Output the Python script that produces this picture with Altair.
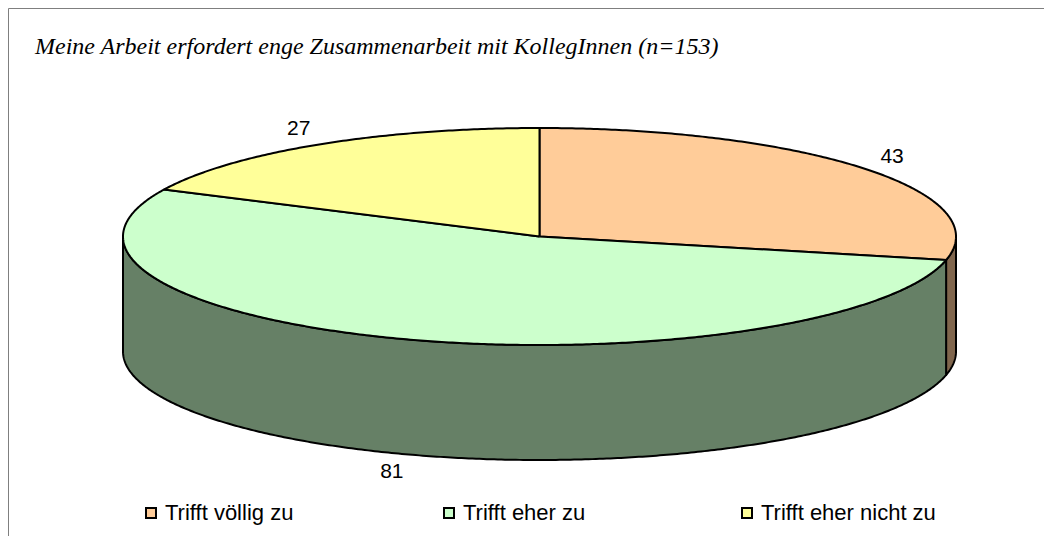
import math
import altair as alt
import pandas as pd

# ---- data ----
categories = ["Trifft völlig zu", "Trifft eher zu", "Trifft eher nicht zu"]
values = [43, 81, 27]
top_colors = ["#FFCC99", "#CCFFCC", "#FFFF99"]
side_colors = ["#80664D", "#668066", "#808040"]
title_text = "Meine Arbeit erfordert enge Zusammenarbeit mit KollegInnen (n=153)"

# ---- layout of the tilted pie (page pixel units) ----
CX, CY, RX, RY, DEPTH = 539.5, 236.5, 416.5, 108.5, 115.0
LRX, LRY = 452.0, 127.0
X0, Y0, W, H = 8, 8, 1036, 528


def pt(a, dy=0.0, rx=RX, ry=RY):
    r = math.radians(a)
    return CX + rx * math.sin(r), CY - ry * math.cos(r) + dy


def arc_angles(a0, a1, step=0.5):
    n = max(2, int((a1 - a0) / step) + 1)
    return [a0 + (a1 - a0) * k / (n - 1) for k in range(n)]


total = sum(values)
top_rows, side_rows, label_rows = [], [], []
acc = 0.0
for cat, v in zip(categories, values):
    a0 = acc / total * 360.0
    a1 = (acc + v) / total * 360.0
    acc += v
    pts = [(CX, CY)] + [pt(a) for a in arc_angles(a0, a1)] + [(CX, CY)]
    for i, (x, y) in enumerate(pts):
        top_rows.append({"cat": cat, "i": i, "x": x, "y": y})
    s0, s1 = max(a0, 90.0), min(a1, 270.0)
    if s1 > s0:
        sa = arc_angles(s0, s1)
        spts = [pt(a) for a in sa] + [pt(a, DEPTH) for a in reversed(sa)] + [pt(sa[0])]
        for i, (x, y) in enumerate(spts):
            side_rows.append({"cat": cat, "i": i, "x": x, "y": y})
    mid = (a0 + a1) / 2.0
    front = math.cos(math.radians(mid)) < 0
    lx, ly = pt(mid, DEPTH if front else 0.0, LRX, LRY)
    label_rows.append({"cat": cat, "label": str(v), "x": lx, "y": ly})

top_df = pd.DataFrame(top_rows)
side_df = pd.DataFrame(side_rows)
label_df = pd.DataFrame(label_rows)

frame_axis = dict(domain=True, domainColor="#7f7f7f", domainWidth=1, ticks=False,
                  labels=False, grid=False, title=None)
xenc = alt.X("x:Q", scale=alt.Scale(domain=[X0, X0 + W], nice=False, zero=False),
             axis=alt.Axis(orient="top", **frame_axis))
yenc = alt.Y("y:Q", scale=alt.Scale(domain=[Y0, Y0 + H], nice=False, zero=False, reverse=True),
             axis=alt.Axis(orient="left", **frame_axis))

sides = alt.Chart(side_df).mark_line(
    filled=True, stroke="black", strokeWidth=2, strokeJoin="round"
).encode(
    x=xenc, y=yenc,
    color=alt.Color("cat:N", scale=alt.Scale(domain=categories, range=side_colors), legend=None),
    order=alt.Order("i:Q"),
)

tops = alt.Chart(top_df).mark_line(
    filled=True, stroke="black", strokeWidth=2, strokeJoin="round"
).encode(
    x=xenc, y=yenc,
    color=alt.Color(
        "cat:N",
        scale=alt.Scale(domain=categories, range=top_colors),
        legend=alt.Legend(
            title=None, orient="none", legendX=132, legendY=494,
            direction="horizontal", columns=3, gridAlign="all", columnPadding=98,
            symbolType="square", symbolSize=100, symbolStrokeColor="black",
            symbolStrokeWidth=2, symbolOpacity=1,
            labelFont="Liberation Sans", labelFontSize=22, labelColor="black",
            labelOffset=3, labelLimit=400, padding=0,
        ),
    ),
    order=alt.Order("i:Q"),
)

labels = alt.Chart(label_df).mark_text(
    font="Liberation Sans", fontSize=21, color="black"
).encode(x=xenc, y=yenc, text="label:N")

chart = alt.layer(sides, tops, labels).resolve_scale(color="independent").properties(
    width=W, height=H, padding=0,
    title=alt.Title(
        title_text, anchor="start", orient="top", offset=-51, dx=27, frame="bounds",
        font="Liberation Serif", fontStyle="italic", fontWeight="normal",
        fontSize=24, color="black",
    ),
).configure_view(stroke="transparent", strokeWidth=0)

chart.save("out.html", embed_options={"renderer": "svg", "actions": False})
